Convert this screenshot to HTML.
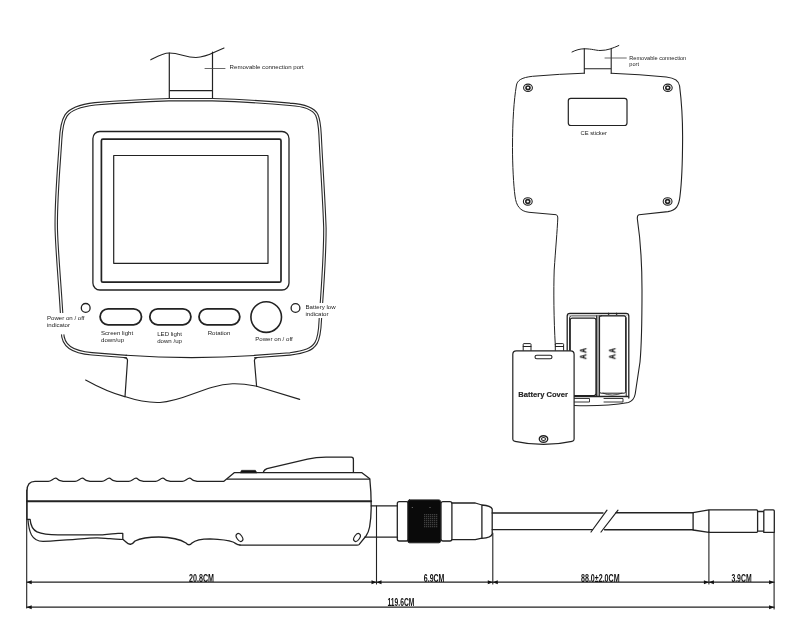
<!DOCTYPE html>
<html><head><meta charset="utf-8"><style>
html,body{margin:0;padding:0;background:#fff;width:800px;height:624px;overflow:hidden}
svg{display:block;-webkit-font-smoothing:antialiased}
text{will-change:transform}
.t{font-family:"Liberation Sans",sans-serif;font-size:6.1px;fill:#222}
.d{font-family:"Liberation Sans",sans-serif;font-size:9px;fill:#111}
</style></head><body>
<svg width="800" height="624" viewBox="0 0 800 624">
<g fill="none" stroke="#222" stroke-linecap="round" stroke-linejoin="round">

<!-- ===== FRONT VIEW ===== -->
<g id="front">
  <!-- port -->
  <path d="M150.8,59.8 C158,56 163,53 169.3,53 C180,53 185,57.5 196,57.5 C207,57.5 214,52 224,48" stroke-width="1.1"/>
  <path d="M169.3,53 V98.8 M212.5,52.2 V98.8 M169.3,90.6 H212.5" stroke-width="1.2"/>
  <path d="M205,68.5 H225" stroke-width="0.8" stroke="#444"/>
  <!-- body double outline -->
  <g id="fbody">
  <path id="fb" d="M127,356.6 L92,353.8 C72,352 62.5,346 62.5,332 C61.5,300 57.2,260 56.3,230 C55.6,200 59.5,160 60.6,140 C61,132 62.5,121 66,115.5 C70,109.5 78,105.8 95,103.8 Q130,101 168.8,99.7 L212.5,99.7 Q255,101 290,104.3 C306,105.3 313.5,108.5 316.8,115 C318.8,119.5 319.6,125 320.1,135 C321.5,165 324,200 324.9,228 C325,260 321.5,300 320.3,320 C319.8,332 319,338 316,343 C312,349.5 305,352 290,353.9 L254,356.6" stroke-width="3.5" stroke="#2a2a2a" stroke-linecap="butt"/>
  <path d="M127,356.6 L92,353.8 C72,352 62.5,346 62.5,332 C61.5,300 57.2,260 56.3,230 C55.6,200 59.5,160 60.6,140 C61,132 62.5,121 66,115.5 C70,109.5 78,105.8 95,103.8 Q130,101 168.8,99.7 L212.5,99.7 Q255,101 290,104.3 C306,105.3 313.5,108.5 316.8,115 C318.8,119.5 319.6,125 320.1,135 C321.5,165 324,200 324.9,228 C325,260 321.5,300 320.3,320 C319.8,332 319,338 316,343 C312,349.5 305,352 290,353.9 L254,356.6" stroke-width="1.3" stroke="#fff" stroke-linecap="butt"/>
  </g>
  <!-- gaps for side text -->
  <rect x="54" y="313" width="12" height="21.4" fill="#fff" stroke="none"/>
  <rect x="316" y="303" width="10" height="15" fill="#fff" stroke="none"/>
  <path d="M126,355.3 Q190,359.8 255,355.5" stroke-width="1.1"/>
  <!-- handle -->
  <path d="M124,357.6 Q127.5,357.8 127.5,360.5 L125,396.6" stroke-width="1.2"/>
  <path d="M257,357.6 Q254.4,357.8 254.4,360.5 L256.6,386.3" stroke-width="1.2"/>
  <path d="M85.6,380 C100,388 115,394 124.7,396.6 C135,400 148,403 160,402.5 C185,401 205,385 232.5,383.8 C245,383.5 250,385 256.6,386.3 L299.7,399.4" stroke-width="1.1"/>
  <!-- screen -->
  <rect x="92.9" y="131.5" width="196.1" height="158.5" rx="7" stroke-width="1.3"/>
  <rect x="101.4" y="139.2" width="179.6" height="143" rx="1.5" stroke-width="1.7"/>
  <rect x="113.7" y="155.5" width="154.3" height="107.8" stroke-width="1.2"/>
  <!-- indicators & buttons -->
  <circle cx="85.7" cy="307.9" r="4.4" stroke-width="1.3"/>
  <circle cx="295.5" cy="308" r="4.4" stroke-width="1.3"/>
  <rect x="100.1" y="308.8" width="41.4" height="16" rx="8" stroke-width="1.8"/>
  <rect x="149.8" y="308.8" width="41.1" height="16" rx="8" stroke-width="1.8"/>
  <rect x="199" y="308.8" width="40.8" height="16" rx="8" stroke-width="1.8"/>
  <circle cx="266.2" cy="317.1" r="15.3" stroke-width="1.6"/>
</g>

<!-- ===== BACK VIEW ===== -->
<g id="back">
  <path d="M572,52 C576,50 580,48.8 584.3,48.8 C592,48.8 596,50.5 600,50.5 C608,50.5 613,48 618.8,45.5" stroke-width="1"/>
  <path d="M584.3,48.6 V73.2 M611.2,48.2 V73.2 M584.3,68.8 H611.2" stroke-width="1.1"/>
  <path d="M605,58 H626.3" stroke-width="0.8" stroke="#444"/>
  <path d="M584.3,73.2 Q560,74 532.5,76.3 C522,77.5 517,80 516.3,86 C514,100 512.5,120 512.5,147.5 C512.5,165 513.5,185 515,196 C516.2,206 520,211.2 529,212.3 L556,214.7 Q558,215 557.8,218 C557.3,230 555.5,250 554.2,270 C553.5,290 553.8,320 555.3,345"/>
  <path d="M611.2,73.2 Q640,74.5 666.3,77 C675,78 679,81 679.6,86 C682,105 682.7,125 682.6,140 C682.5,160 682,180 680,196 C679,206 676,210.5 668,211.6 L639,214.7 Q637.2,215 637.3,218.5 C640.5,240 642,260 642,290 C642,320 641.6,345 640,362 L635.2,394 Q634,400.5 628.5,402.5 Q605,406.5 574,405.5" stroke-width="1.1"/>
  <g stroke-width="1.1">
    <ellipse cx="528" cy="87.8" rx="4.4" ry="3.7"/><ellipse cx="528" cy="87.8" rx="2" ry="1.8" stroke-width="1.6"/>
    <ellipse cx="667.8" cy="87.8" rx="4.4" ry="3.7"/><ellipse cx="667.8" cy="87.8" rx="2" ry="1.8" stroke-width="1.6"/>
    <ellipse cx="527.8" cy="201.4" rx="4.4" ry="3.7"/><ellipse cx="527.8" cy="201.4" rx="2" ry="1.8" stroke-width="1.6"/>
    <ellipse cx="667.6" cy="201.4" rx="4.4" ry="3.7"/><ellipse cx="667.6" cy="201.4" rx="2" ry="1.8" stroke-width="1.6"/>
    </g>
  <rect x="568.3" y="98.3" width="58.7" height="27.2" rx="2.5" stroke-width="1.2"/>
  <!-- battery compartment -->
  <path d="M567.2,398 V316 Q567.2,313.3 570,313.3 H626 Q628.8,313.3 628.8,316 V398" stroke-width="1.3"/>
  <path d="M569.6,396 V318 Q569.6,315.8 571.5,315.8 H624 Q626.2,315.8 626.2,318 V396" stroke-width="1"/>
  <rect x="568.5" y="314.6" width="59" height="1" fill="#aaa" stroke="none"/>
  <rect x="570.3" y="318.1" width="25.6" height="77.5" rx="2" stroke-width="1.1"/>
  <path d="M596.6,315.8 V396.5 M599.4,315.8 V396.5" stroke-width="1"/>
  <rect x="597" y="316" width="2" height="80" fill="#999" stroke="none"/>
  <rect x="599.6" y="315.8" width="26" height="77.4" rx="1.5" stroke-width="1"/>
  <path d="M572,396.5 H628 " stroke-width="1.5"/>
  <path d="M574,398.5 H589.5 V402 H574 M604,398.5 H623 V402 H604" stroke-width="0.9"/>
  <path d="M603,393.2 Q612,397 622,393.2" stroke-width="0.8"/>
  <circle cx="608.5" cy="313.8" r="0.6" fill="#222"/><circle cx="616.5" cy="313.8" r="0.6" fill="#222"/>
  <!-- battery cover -->
  <path d="M523.2,351 V344.3 Q523.2,343.6 524,343.6 H530.3 Q531,343.6 531,344.3 V351 M555.3,351 V344.3 Q555.3,343.6 556,343.6 H562.8 Q563.6,343.6 563.6,344.3 V351 M523.2,346.5 H531 M555.3,346.5 H563.6" stroke-width="1"/>
  <path d="M516.3,350.8 H570.6 Q574.1,350.8 574.1,354.3 V439.3 Q574.1,441 572,441.3 Q543.5,447.6 515,441.3 Q512.8,441 512.8,439.3 V354.3 Q512.8,350.8 516.3,350.8 Z" fill="#fff" stroke-width="1.2"/>
  <rect x="535" y="355.2" width="17" height="3.6" rx="1.8" stroke-width="1.1"/>
  <ellipse cx="543.5" cy="439" rx="4.2" ry="3.3" stroke-width="1.4"/><ellipse cx="543.5" cy="439" rx="2" ry="1.5" stroke-width="1.1"/>
</g>

<!-- ===== SIDE VIEW ===== -->
<g id="side">
  <!-- top contour with bumps -->
  <path d="M27,501 V491 C27,485 30,481.4 35,481.4 H48.3 C51.1,481.4 53.3,478.2 55.6,478.2 C57.2,478.2 58.6,480.5 60.2,480.6 L63.2,481.4 H75.1 C77.9,481.4 80.1,478.2 82.4,478.2 C84.0,478.2 85.4,480.5 87.0,480.6 L90.0,481.4 H101.9 C104.7,481.4 106.9,478.2 109.2,478.2 C110.8,478.2 112.2,480.5 113.8,480.6 L116.8,481.4 H128.7 C131.5,481.4 133.7,478.2 136.0,478.2 C137.6,478.2 139.0,480.5 140.6,480.6 L143.6,481.4 H155.5 C158.3,481.4 160.5,478.2 162.8,478.2 C164.4,478.2 165.8,480.5 167.4,480.6 L170.4,481.4 H182.3 C185.1,481.4 187.3,478.2 189.6,478.2 C191.2,478.2 192.6,480.5 194.2,480.6 L197.2,481.4 H223.6 L234.5,472.6 H361.6 L369.8,478.8 C370.8,488 371.2,500 371.2,506 C371.2,515 370.5,522 369.6,527 C368.8,531 367.5,534 366,536 L359,544.6 Q358.5,545.1 357,545.1 H240" stroke-width="1.3"/>
  <path d="M227.5,479.2 H369.5" stroke-width="1.3"/>
  <path d="M27,501.2 H371.2" stroke-width="1.9"/>
  <!-- raised top piece -->
  <path d="M263.5,471.6 Q264.5,469.6 267,468.6 L307.5,459.2 Q316,457.3 326,457.2 H351.3 Q353.4,457.2 353.4,459.4 V472" stroke-width="1.3"/>
  <path d="M240.3,472.6 L241.5,470.3 H255.4 L256.8,472.6 Z" fill="#111" stroke-width="0.6"/>
  <!-- bottom contour with grip -->
  <path d="M27,501 V519.4 H30.1 C30.6,525 32,529.5 37,531.8 C42,534 48,534.8 58,534.8 L102.5,534.8 C110,534.5 114,533.4 118,533.4 H122.8 V539.2 L126,542 Q130.5,547 135,541 C140,538.5 150,537 158.8,537 C170,537.2 180,539 186,543 Q189,546.5 192,543 C196,539.5 203,538.8 210,538.8 C220,539.2 228,540 233,542 C236,543.5 237,545 240,545" stroke-width="1.3"/>
  <path d="M28,520 C28.5,527 29.5,531 31.5,535 C34,539.5 37.5,541.4 43,541.4 C50,541.4 62,540.2 75,539.3 C85,538.5 92,537.9 97,537.9 C103,537.9 106,538.5 110,538.6 C115,538.9 119,539.4 122.8,539.5" stroke-width="1.2"/>
  <ellipse cx="239.5" cy="537.5" rx="2.6" ry="4.4" transform="rotate(-35 239.5 537.5)" stroke-width="1.2"/>
  <ellipse cx="357" cy="537.5" rx="2.6" ry="4.4" transform="rotate(35 357 537.5)" stroke-width="1.2"/>
  <!-- neck -->
  <path d="M371.2,505.9 H397.5 M364.8,537.2 H397.5" stroke-width="1.3"/>
  <!-- collars -->
  <rect x="397.3" y="501.6" width="11" height="39.4" rx="2" stroke-width="1.3"/>
  <rect x="407.9" y="499.9" width="32.6" height="42.9" rx="1.6" fill="#0a0a0a" stroke-width="1"/>
  <g fill="#777" stroke="none"><rect x="424.3" y="514.3" width="0.9" height="0.9"/><rect x="424.3" y="516.3" width="0.9" height="0.9"/><rect x="424.3" y="518.3" width="0.9" height="0.9"/><rect x="424.3" y="520.3" width="0.9" height="0.9"/><rect x="424.3" y="522.3" width="0.9" height="0.9"/><rect x="424.3" y="524.3" width="0.9" height="0.9"/><rect x="424.3" y="526.3" width="0.9" height="0.9"/><rect x="426.3" y="514.3" width="0.9" height="0.9"/><rect x="426.3" y="516.3" width="0.9" height="0.9"/><rect x="426.3" y="518.3" width="0.9" height="0.9"/><rect x="426.3" y="520.3" width="0.9" height="0.9"/><rect x="426.3" y="522.3" width="0.9" height="0.9"/><rect x="426.3" y="524.3" width="0.9" height="0.9"/><rect x="426.3" y="526.3" width="0.9" height="0.9"/><rect x="428.3" y="514.3" width="0.9" height="0.9"/><rect x="428.3" y="516.3" width="0.9" height="0.9"/><rect x="428.3" y="518.3" width="0.9" height="0.9"/><rect x="428.3" y="520.3" width="0.9" height="0.9"/><rect x="428.3" y="522.3" width="0.9" height="0.9"/><rect x="428.3" y="524.3" width="0.9" height="0.9"/><rect x="428.3" y="526.3" width="0.9" height="0.9"/><rect x="430.3" y="514.3" width="0.9" height="0.9"/><rect x="430.3" y="516.3" width="0.9" height="0.9"/><rect x="430.3" y="518.3" width="0.9" height="0.9"/><rect x="430.3" y="520.3" width="0.9" height="0.9"/><rect x="430.3" y="522.3" width="0.9" height="0.9"/><rect x="430.3" y="524.3" width="0.9" height="0.9"/><rect x="430.3" y="526.3" width="0.9" height="0.9"/><rect x="432.3" y="514.3" width="0.9" height="0.9"/><rect x="432.3" y="516.3" width="0.9" height="0.9"/><rect x="432.3" y="518.3" width="0.9" height="0.9"/><rect x="432.3" y="520.3" width="0.9" height="0.9"/><rect x="432.3" y="522.3" width="0.9" height="0.9"/><rect x="432.3" y="524.3" width="0.9" height="0.9"/><rect x="432.3" y="526.3" width="0.9" height="0.9"/><rect x="434.3" y="514.3" width="0.9" height="0.9"/><rect x="434.3" y="516.3" width="0.9" height="0.9"/><rect x="434.3" y="518.3" width="0.9" height="0.9"/><rect x="434.3" y="520.3" width="0.9" height="0.9"/><rect x="434.3" y="522.3" width="0.9" height="0.9"/><rect x="434.3" y="524.3" width="0.9" height="0.9"/><rect x="434.3" y="526.3" width="0.9" height="0.9"/><rect x="436.3" y="514.3" width="0.9" height="0.9"/><rect x="436.3" y="516.3" width="0.9" height="0.9"/><rect x="436.3" y="518.3" width="0.9" height="0.9"/><rect x="436.3" y="520.3" width="0.9" height="0.9"/><rect x="436.3" y="522.3" width="0.9" height="0.9"/><rect x="436.3" y="524.3" width="0.9" height="0.9"/><rect x="436.3" y="526.3" width="0.9" height="0.9"/><rect x="411.8" y="507" width="1" height="1"/><rect x="429.5" y="507" width="1" height="1"/></g>
  <rect x="441" y="501.6" width="10.9" height="39.4" rx="2" stroke-width="1.3"/>
  <path d="M451.9,503 H475.3 L481.9,505 M451.9,539.6 H475.3 L481.9,538.2 M481.9,505 V538.4 M481.9,505 C488,505.5 491.5,507 492.2,509 V534 C491.5,536.5 488,538 481.9,538.4" stroke-width="1.3"/>
  <!-- cable -->
  <path d="M492.2,513 H603 M616,512.8 H693.1 M492.2,529.6 H592.5 M604.5,529.8 H693.1" stroke-width="1.4"/>
  <path d="M591,532 L607,510.2 M601,532 L618,510.2" stroke-width="1.2"/>
  <path d="M693.1,512.6 V530 M693.1,512.6 L708.9,509.8 M693.1,530 L708.9,532.3 M708.9,509.9 H756.6 Q757.6,509.9 757.6,511 V531.3 Q757.6,532.4 756.6,532.4 H708.9 Z M757.6,511.5 H763.8 M757.6,531.1 H763.8 M763.8,532.4 V511 Q763.8,509.9 764.8,509.9 H773.2 Q774.3,509.9 774.3,511 V532.4 Z" stroke-width="1.3"/>
</g>

<!-- ===== DIMENSIONS ===== -->
<g id="dims" stroke-width="1.1">
  <path d="M26.7,490 V608 M376.5,506 V584 M492.8,533 V584 M708.9,532 V584 M774.1,533 V609" />
  <path d="M27,582.2 H774.1 M27,607.2 H774.1" stroke-width="1.2"/>
</g>
<g id="arrows" fill="#111" stroke="none">
  <path d="M26.7,582.2 l5,-2 v4 z M376.5,582.2 l-5,-2 v4 z M376.5,582.2 l5,-2 v4 z M492.8,582.2 l-5,-2 v4 z M492.8,582.2 l5,-2 v4 z M708.9,582.2 l-5,-2 v4 z M708.9,582.2 l5,-2 v4 z M774.1,582.2 l-5,-2 v4 z"/>
  <path d="M26.7,607.2 l5,-2 v4 z M774.1,607.2 l-5,-2 v4 z"/>
</g>
</g>

<g class="t" stroke="none">
  <text x="229.6" y="69.4">Removable connection port</text>
  <text x="47" y="319.6">Power on / off</text>
  <text x="47" y="326.6">indicator</text>
  <text x="101" y="334.8">Screen light</text>
  <text x="101" y="341.6">down/up</text>
  <text x="157.2" y="335.8">LED light</text>
  <text x="157.2" y="342.6">down /up</text>
  <text x="207.7" y="335.1">Rotation</text>
  <text x="255.2" y="340.6">Power on / off</text>
  <text x="305.5" y="309.2">Battery low</text>
  <text x="305.5" y="316.2">indicator</text>
  <text x="629.3" y="59.6" style="font-size:5.6px">Removable connection</text>
  <text x="629.3" y="65.6" style="font-size:5.6px">port</text>
  <text x="580.5" y="134.5" style="font-size:5.8px">CE sticker</text>
</g>
<g stroke="none" fill="#222" style="font-family:'Liberation Sans',sans-serif;font-weight:bold">
  <text x="518.2" y="397.3" style="font-size:7.6px" stroke="#222" stroke-width="0.15">Battery Cover</text>
  <text transform="translate(586.2,359.2) rotate(-90)" style="font-size:9px" stroke="#111" stroke-width="0.3" textLength="11.2" lengthAdjust="spacingAndGlyphs">A A</text>
  <text transform="translate(615.3,359.2) rotate(-90)" style="font-size:9px" stroke="#111" stroke-width="0.3" textLength="11.2" lengthAdjust="spacingAndGlyphs">A A</text>
</g>
<g stroke="none" fill="#111" style="font-family:'Liberation Sans',sans-serif;font-size:11.6px;font-weight:bold">
  <text x="189" y="581.6" textLength="25" lengthAdjust="spacingAndGlyphs">20.8CM</text>
  <text x="423.8" y="581.8" textLength="20.6" lengthAdjust="spacingAndGlyphs">6.9CM</text>
  <text x="581" y="581.8" textLength="38.6" lengthAdjust="spacingAndGlyphs">88.0±2.0CM</text>
  <text x="731.4" y="581.8" textLength="20.2" lengthAdjust="spacingAndGlyphs">3.9CM</text>
  <text x="387.5" y="606.4" textLength="26.8" lengthAdjust="spacingAndGlyphs">119.6CM</text>
</g>
</svg>
</body></html>
